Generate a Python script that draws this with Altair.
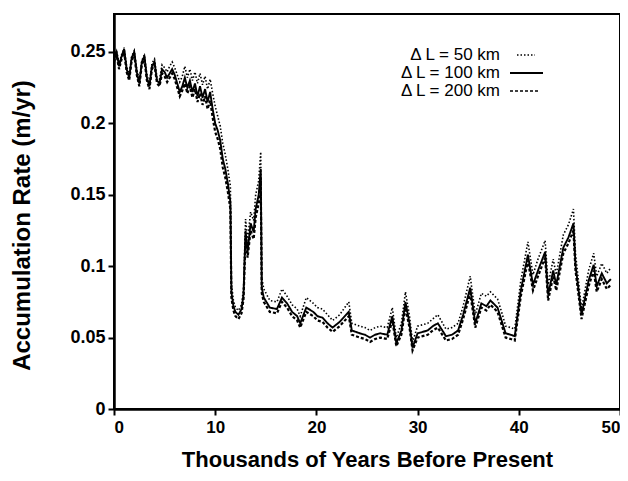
import altair as alt
import pandas as pd

years = [
    0.0, 0.25, 0.5, 0.75, 1.0, 1.25, 1.5, 1.75, 2.0, 2.25,
    2.5, 2.75, 3.0, 3.25, 3.5, 3.75, 4.0, 4.25, 4.5, 4.75,
    5.0, 5.25, 5.5, 5.75, 6.0, 6.25, 6.5, 6.75, 7.0, 7.25,
    7.5, 7.75, 8.0, 8.25, 8.5, 8.75, 9.0, 9.25, 9.5, 9.75,
    10.0, 10.25, 10.5, 10.75, 11.0, 11.25, 11.5, 11.6, 11.8, 12.0,
    12.3, 12.6, 12.8, 13.0, 13.2, 13.5, 13.8, 14.0, 14.3, 14.5,
    14.6, 14.8, 15.4, 16.1, 16.6, 17.1, 17.6, 18.1, 18.4, 19.0,
    19.7, 20.1, 20.6, 21.1, 21.6, 22.3, 23.2, 23.5, 24.3, 24.8,
    25.3, 25.8, 26.3, 27.0, 27.5, 27.9, 28.4, 28.8, 29.2, 29.5,
    30.0, 30.5, 31.0, 31.5, 32.0, 32.8, 33.4, 34.0, 34.5, 35.2,
    35.7, 36.3, 36.8, 37.2, 37.9, 38.3, 38.7, 39.2, 39.6, 40.2,
    40.9, 41.4, 41.9, 42.6, 42.9, 43.4, 43.7, 44.4, 44.9, 45.4,
    45.6, 46.2, 46.9, 47.4, 47.7, 48.2, 48.7, 49.1,
]

rate_50km = [
    0.247, 0.251, 0.242, 0.248, 0.253, 0.240, 0.234, 0.247, 0.251, 0.238,
    0.230, 0.244, 0.248, 0.234, 0.228, 0.242, 0.245, 0.232, 0.231, 0.241,
    0.239, 0.236, 0.240, 0.243, 0.239, 0.234, 0.229, 0.233, 0.240, 0.232,
    0.238, 0.230, 0.236, 0.228, 0.235, 0.227, 0.233, 0.224, 0.231, 0.221,
    0.212, 0.205, 0.198, 0.186, 0.178, 0.168, 0.156, 0.088, 0.076, 0.071,
    0.069, 0.073, 0.084, 0.133, 0.118, 0.138, 0.132, 0.150, 0.160, 0.180,
    0.092, 0.084, 0.076, 0.075, 0.084, 0.079, 0.073, 0.070, 0.065, 0.078,
    0.074, 0.071, 0.070, 0.066, 0.062, 0.066, 0.075, 0.060, 0.058, 0.057,
    0.055, 0.057, 0.058, 0.057, 0.071, 0.050, 0.060, 0.082, 0.065, 0.047,
    0.058, 0.059, 0.060, 0.063, 0.066, 0.056, 0.057, 0.060, 0.072, 0.093,
    0.066, 0.081, 0.079, 0.082, 0.077, 0.068, 0.058, 0.057, 0.056, 0.090,
    0.117, 0.094, 0.105, 0.118, 0.087, 0.105, 0.094, 0.122, 0.129, 0.140,
    0.109, 0.070, 0.097, 0.109, 0.093, 0.102, 0.095, 0.099,
]

rate_100km = [
    0.245, 0.250, 0.240, 0.247, 0.252, 0.238, 0.232, 0.246, 0.250, 0.236,
    0.228, 0.243, 0.247, 0.232, 0.226, 0.240, 0.243, 0.230, 0.228, 0.238,
    0.236, 0.232, 0.235, 0.238, 0.234, 0.228, 0.222, 0.226, 0.232, 0.225,
    0.230, 0.222, 0.228, 0.219, 0.226, 0.218, 0.224, 0.215, 0.222, 0.210,
    0.200, 0.195, 0.188, 0.175, 0.168, 0.158, 0.145, 0.082, 0.072, 0.068,
    0.066, 0.070, 0.080, 0.125, 0.110, 0.130, 0.124, 0.140, 0.150, 0.168,
    0.085, 0.078, 0.071, 0.070, 0.078, 0.074, 0.068, 0.065, 0.060, 0.071,
    0.068, 0.065, 0.064, 0.060, 0.057, 0.061, 0.068, 0.055, 0.053, 0.052,
    0.050, 0.052, 0.053, 0.052, 0.065, 0.046, 0.055, 0.075, 0.060, 0.043,
    0.053, 0.054, 0.055, 0.058, 0.060, 0.051, 0.052, 0.055, 0.066, 0.085,
    0.060, 0.074, 0.072, 0.076, 0.071, 0.062, 0.053, 0.052, 0.051, 0.083,
    0.108, 0.087, 0.097, 0.110, 0.080, 0.097, 0.087, 0.113, 0.120, 0.130,
    0.101, 0.066, 0.090, 0.101, 0.086, 0.095, 0.088, 0.091,
]

rate_200km = [
    0.243, 0.248, 0.238, 0.245, 0.250, 0.236, 0.230, 0.244, 0.248, 0.234,
    0.226, 0.241, 0.245, 0.230, 0.224, 0.238, 0.241, 0.228, 0.226, 0.235,
    0.233, 0.229, 0.232, 0.235, 0.231, 0.225, 0.219, 0.223, 0.228, 0.221,
    0.226, 0.218, 0.224, 0.215, 0.221, 0.213, 0.219, 0.210, 0.216, 0.204,
    0.194, 0.189, 0.182, 0.169, 0.162, 0.152, 0.140, 0.078, 0.069, 0.065,
    0.063, 0.067, 0.077, 0.120, 0.106, 0.125, 0.119, 0.134, 0.144, 0.162,
    0.081, 0.075, 0.068, 0.067, 0.075, 0.071, 0.065, 0.062, 0.057, 0.068,
    0.065, 0.062, 0.061, 0.057, 0.054, 0.058, 0.065, 0.052, 0.050, 0.049,
    0.047, 0.049, 0.050, 0.049, 0.062, 0.044, 0.052, 0.071, 0.057, 0.041,
    0.050, 0.051, 0.052, 0.055, 0.057, 0.048, 0.049, 0.052, 0.063, 0.081,
    0.057, 0.071, 0.069, 0.073, 0.068, 0.059, 0.050, 0.049, 0.048, 0.079,
    0.104, 0.083, 0.093, 0.106, 0.076, 0.093, 0.083, 0.109, 0.116, 0.125,
    0.097, 0.063, 0.086, 0.097, 0.082, 0.091, 0.084, 0.087,
]

series_names = ["\u0394 L = 50 km", "\u0394 L = 100 km", "\u0394 L = 200 km"]
x_ticks = [0, 10, 20, 30, 40, 50]
y_ticks = [0, 0.05, 0.1, 0.15, 0.2, 0.25]

rows = []
for name, vals in zip(series_names, [rate_50km, rate_100km, rate_200km]):
    for yr, v in zip(years, vals):
        rows.append({"kyr": yr, "rate": v, "series": name})
df = pd.DataFrame(rows)

FONT = "Liberation Sans"
W, H = 506, 395

dash_scale = alt.Scale(domain=series_names, range=[[1.5, 2], [1, 0], [3, 2]])
width_scale = alt.Scale(domain=series_names, range=[1.6, 2.2, 1.6])

lines = alt.Chart(df).mark_line(color="black", clip=True).encode(
    x=alt.X("kyr:Q", scale=alt.Scale(domain=[0, 50], nice=False),
            axis=alt.Axis(values=x_ticks, format="d", labelFontSize=17,
                          title="Thousands of Years Before Present",
                          titleFontSize=22, titlePadding=14, labelPadding=4)),
    y=alt.Y("rate:Q", scale=alt.Scale(domain=[0, 0.2766], nice=False, zero=True),
            axis=alt.Axis(values=y_ticks, format="~g", labelFontSize=18,
                          title="Accumulation Rate (m/yr)", titleY=211,
                          titleFontSize=24, titlePadding=35, labelPadding=3)),
    strokeDash=alt.StrokeDash("series:N", scale=dash_scale, legend=None),
    strokeWidth=alt.StrokeWidth("series:N", scale=width_scale, legend=None),
    detail="series:N",
)

legend_y = [41, 59, 77]
legend_x1 = [403, 396, 396]
legend_x2 = [421, 429, 424]
legend_dash = [[1.5, 2], [1, 0], [3, 2]]
legend_w = [1.4, 2.0, 1.4]

layers = [lines]
for i, name in enumerate(series_names):
    layers.append(
        alt.Chart(pd.DataFrame({"t": [name]})).mark_text(
            align="right", baseline="middle", font=FONT, fontSize=17,
            fontWeight="normal", color="black"
        ).encode(text="t:N", x=alt.value(386), y=alt.value(legend_y[i]))
    )
    layers.append(
        alt.Chart(pd.DataFrame({"t": [name]})).mark_rule(
            color="black", strokeDash=legend_dash[i], strokeWidth=legend_w[i]
        ).encode(x=alt.value(legend_x1[i]), x2=alt.value(legend_x2[i]),
                 y=alt.value(legend_y[i]))
    )

chart = alt.layer(*layers).properties(
    width=W, height=H,
    autosize=alt.AutoSizeParams(type="none"),
    padding={"left": 106, "top": 6, "right": 0, "bottom": 64},
).configure_view(
    stroke="black", strokeWidth=2
).configure_axis(
    domainColor="black", domainWidth=2.5, tickColor="black", tickWidth=2,
    tickSize=6, grid=False, labelFont=FONT,
    labelFontWeight="bold", labelColor="black", titleFont=FONT,
    titleFontWeight="bold", titleColor="black",
)

chart.save("out.html", embed_options={"renderer": "svg", "actions": False})
